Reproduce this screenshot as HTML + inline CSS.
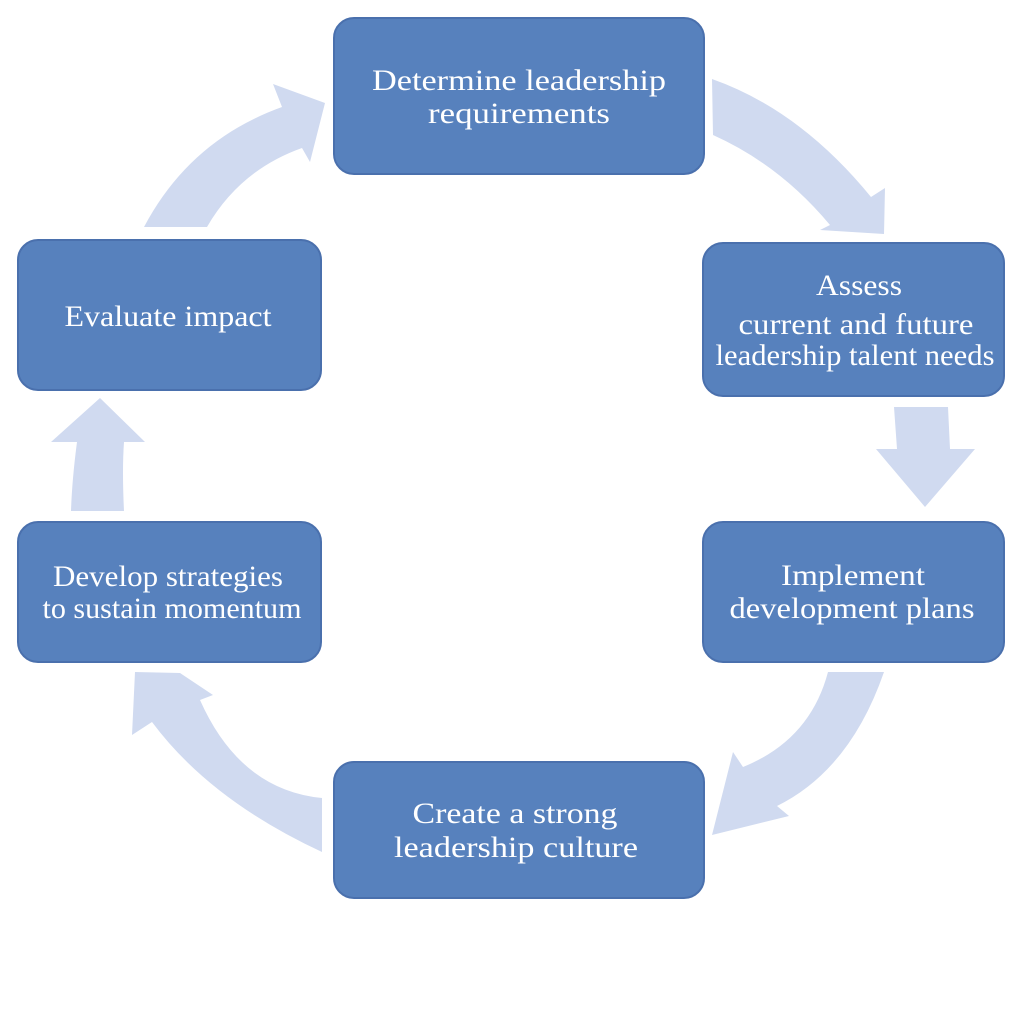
<!DOCTYPE html>
<html><head><meta charset="utf-8"><style>
html,body{margin:0;padding:0;background:#fff;}
svg{display:block;}
text{font-family:"Liberation Serif",serif;font-size:30px;fill:#fff;text-anchor:middle;}
</style></head><body>
<svg width="1024" height="1024" viewBox="0 0 1024 1024" xmlns="http://www.w3.org/2000/svg">
<g fill="#d0daf0">
<path d="M712,79 Q800,110 871,197 L885,188 L884,234 L820,230 L830,225 Q780,165 713,135 Z"/>
<path d="M894,407 L948,407 L950,449 L975,449 L925,507 L876,449 L897,449 Z"/>
<path d="M884,672 Q850,770 777,806 L789,816 L712,835 L733,752 L743,767 Q810,740 828,672 Z"/>
<path d="M322,798 Q240,790 200,700 L213,695 L180,673 L135,672 L132,735 L152,722 Q210,800 322,852 Z"/>
<path d="M71,511 L124,511 Q122,470 124,442 L145,442 L100,398 L51,442 L77,442 Q72,480 71,511 Z"/>
<path d="M144,227 Q190,140 282,107 L273,84 L325,103 L310,162 L302,148 Q240,170 207,227 Z"/>
</g>
<g fill="#5781bd" stroke="#4a70ad" stroke-width="2">
<rect x="334" y="18" width="370" height="156" rx="20"/>
<rect x="703" y="243" width="301" height="153" rx="20"/>
<rect x="703" y="522" width="301" height="140" rx="20"/>
<rect x="334" y="762" width="370" height="136" rx="20"/>
<rect x="18" y="522" width="303" height="140" rx="20"/>
<rect x="18" y="240" width="303" height="150" rx="20"/>
</g>
<text x="519" y="90" textLength="294" lengthAdjust="spacingAndGlyphs">Determine leadership</text>
<text x="519" y="123" textLength="182" lengthAdjust="spacingAndGlyphs">requirements</text>
<text x="859" y="295" textLength="86" lengthAdjust="spacingAndGlyphs">Assess</text>
<text x="856" y="334" textLength="235" lengthAdjust="spacingAndGlyphs">current and future</text>
<text x="855" y="365" textLength="279" lengthAdjust="spacingAndGlyphs">leadership talent needs</text>
<text x="168" y="326" textLength="207" lengthAdjust="spacingAndGlyphs">Evaluate impact</text>
<text x="853" y="585" textLength="144" lengthAdjust="spacingAndGlyphs">Implement</text>
<text x="852" y="618" textLength="245" lengthAdjust="spacingAndGlyphs">development plans</text>
<text x="168" y="586" textLength="230" lengthAdjust="spacingAndGlyphs">Develop strategies</text>
<text x="172" y="618" textLength="259" lengthAdjust="spacingAndGlyphs">to sustain momentum</text>
<text x="515" y="823" textLength="205" lengthAdjust="spacingAndGlyphs">Create a strong</text>
<text x="516" y="857" textLength="244" lengthAdjust="spacingAndGlyphs">leadership culture</text>
</svg>
</body></html>
